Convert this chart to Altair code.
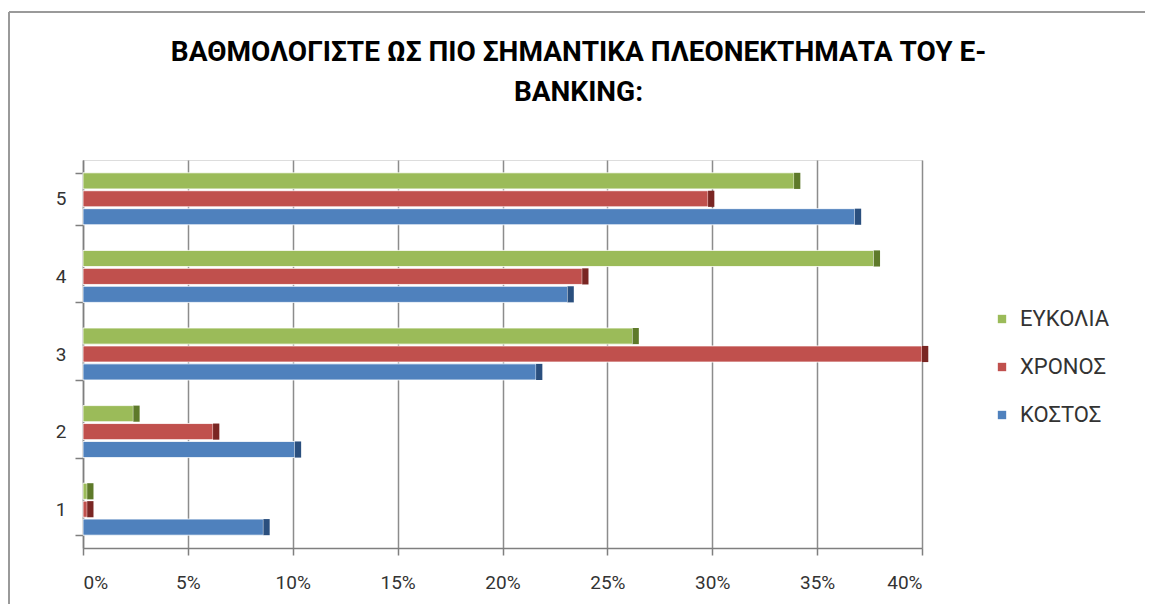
import altair as alt
import pandas as pd

categories = ["1", "2", "3", "4", "5"]
series = ["ΕΥΚΟΛΙΑ", "ΧΡΟΝΟΣ", "ΚΟΣΤΟΣ"]
kostos = [8.6, 10.1, 21.6, 23.1, 36.8]
xronos = [0.2, 6.2, 40.0, 23.8, 29.8]
eykolia = [0.2, 2.4, 26.2, 37.7, 33.9]
colors = ["#9BBB59", "#C0504D", "#4F81BD"]
dark_colors = ["#5E7A2A", "#7A2623", "#2A4F7E"]
x_ticks = [0, 5, 10, 15, 20, 25, 30, 35, 40]
title_lines = ["ΒΑΘΜΟΛΟΓΙΣΤΕ ΩΣ ΠΙΟ ΣΗΜΑΝΤΙΚΑ ΠΛΕΟΝΕΚΤΗΜΑΤΑ ΤΟΥ Ε-", "BANKING:"]

rows = []
for name, vals in zip(series, [eykolia, xronos, kostos]):
    for c, v in zip(categories, vals):
        rows.append({"cat": c, "series": name, "value": v})
df = pd.DataFrame(rows)

FONT = "Roboto"

y_enc = alt.Y("cat:N", sort=["5", "4", "3", "2", "1"],
              scale=alt.Scale(paddingInner=0.33, paddingOuter=0.165),
              axis=alt.Axis(title=None, tickBand="extent", labelFontSize=19, labelColor="#333333",
                            labelFont=FONT, labelPadding=9, tickSize=8, tickColor="#7f7f7f",
                            domainColor="#7f7f7f", domainWidth=1.5, tickWidth=1.5, labelAngle=0))
yoff_enc = alt.YOffset("series:N", sort=series, scale=alt.Scale(paddingInner=0.1))

base = alt.Chart(df)

bars = base.mark_bar(stroke="white", strokeWidth=1, strokeOpacity=0.8).encode(
    y=y_enc,
    yOffset=yoff_enc,
    x=alt.X("value:Q", scale=alt.Scale(domain=[0, 40], nice=False),
            axis=alt.Axis(title=None, values=x_ticks, labelExpr="datum.value + '%'",
                          labelFontSize=19, labelColor="#333333", labelFont=FONT, labelPadding=18,
                          tickSize=7, tickColor="#7f7f7f", tickWidth=1.5, domainColor="#7f7f7f",
                          domainWidth=1.5, grid=True, gridColor="#8c8c8c", gridWidth=1.5)),
    color=alt.Color("series:N", sort=series,
                    scale=alt.Scale(domain=series, range=colors),
                    legend=alt.Legend(title=None, orient="none", legendX=908, legendY=148,
                                      labelFontSize=22, labelFont=FONT, labelColor="#333333",
                                      symbolType="square", symbolSize=70, symbolStrokeWidth=0,
                                      rowPadding=26, labelOffset=7)),
)

caps = base.transform_calculate(end="datum.value + 0.3").mark_bar().encode(
    y=y_enc,
    yOffset=yoff_enc,
    x="value:Q",
    x2="end:Q",
    color=alt.Color("series:N", sort=series, scale=alt.Scale(domain=series, range=dark_colors),
                    legend=None),
)

frame_left = alt.Chart(pd.DataFrame({"a": [0]})).mark_rule(color="#9a9a9a", strokeWidth=2).encode(
    x=alt.value(-74), y=alt.value(-148), y2=alt.value(460))
frame_top = alt.Chart(pd.DataFrame({"a": [0]})).mark_rule(color="#9a9a9a", strokeWidth=2).encode(
    x=alt.value(-74), x2=alt.value(1075), y=alt.value(-148))

chart = alt.layer(bars, caps, frame_left, frame_top).resolve_scale(color="independent").properties(
    width=839,
    height=388,
    title=alt.TitleParams(title_lines, font=FONT, fontSize=28, fontWeight="bold", color="#000000",
                          anchor="middle", dx=76, offset=-96, lineHeight=40),
    autosize=alt.AutoSizeParams(type="none"),
    padding={"left": 75, "top": 152, "right": 223, "bottom": 56},
).configure_view(stroke=None).configure(background="white")

chart.save("out.html", embed_options={"renderer": "svg", "actions": False})
